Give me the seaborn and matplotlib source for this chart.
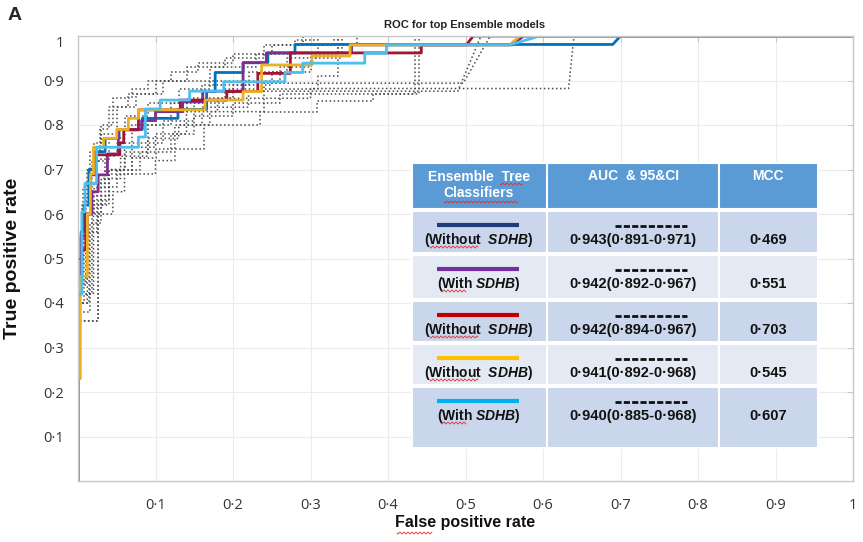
import numpy as np
import pandas as pd
import matplotlib
matplotlib.use('Agg')
import matplotlib.pyplot as plt
from matplotlib.patches import Rectangle
import seaborn as sns

# ---- data ----
tick_vals = [0.1, 0.2, 0.3, 0.4, 0.5, 0.6, 0.7, 0.8, 0.9, 1.0]
tick_labels = ['0·1', '0·2', '0·3', '0·4', '0·5', '0·6', '0·7', '0·8', '0·9', '1']

# top ensemble models (order = table rows)
blue_fpr = [0, 0, 0.004, 0.004, 0.008, 0.008, 0.014, 0.014, 0.022, 0.022, 0.035, 0.035, 0.053, 0.053,
            0.083, 0.083, 0.129, 0.129, 0.166, 0.166, 0.177, 0.177, 0.213, 0.213, 0.245, 0.245,
            0.28, 0.28, 0.69, 0.70, 1.0]
blue_tpr = [0, 0.44, 0.44, 0.56, 0.56, 0.62, 0.62, 0.7, 0.7, 0.74, 0.74, 0.77, 0.77, 0.79, 0.79,
            0.815, 0.815, 0.835, 0.835, 0.875, 0.875, 0.918, 0.918, 0.94, 0.94, 0.962, 0.962,
            0.981, 0.981, 1.0, 1.0]
purple_fpr = [0, 0, 0.004, 0.004, 0.012, 0.012, 0.018, 0.018, 0.026, 0.026, 0.038, 0.038, 0.052, 0.052,
              0.082, 0.082, 0.1, 0.1, 0.135, 0.135, 0.161, 0.161, 0.213, 0.213, 0.243, 0.243,
              0.353, 0.353, 0.56, 0.575, 1.0]
purple_tpr = [0, 0.42, 0.42, 0.55, 0.55, 0.6, 0.6, 0.65, 0.65, 0.688, 0.688, 0.735, 0.735, 0.79, 0.79,
              0.81, 0.81, 0.83, 0.83, 0.852, 0.852, 0.876, 0.876, 0.94, 0.94, 0.962, 0.962,
              0.98, 0.98, 1.0, 1.0]
red_fpr = [0, 0, 0.005, 0.005, 0.01, 0.01, 0.016, 0.016, 0.022, 0.022, 0.054, 0.054, 0.059, 0.059,
           0.078, 0.078, 0.132, 0.132, 0.192, 0.192, 0.232, 0.232, 0.274, 0.274, 0.443, 0.443,
           0.501, 0.51, 1.0]
red_tpr = [0, 0.44, 0.44, 0.52, 0.52, 0.6, 0.6, 0.688, 0.688, 0.733, 0.733, 0.76, 0.76, 0.789, 0.789,
           0.834, 0.834, 0.856, 0.856, 0.875, 0.875, 0.916, 0.916, 0.962, 0.962, 0.98, 0.98, 1.0, 1.0]
yellow_fpr = [0, 0, 0.003, 0.003, 0.012, 0.012, 0.016, 0.016, 0.02, 0.02, 0.033, 0.033, 0.05, 0.05,
              0.065, 0.065, 0.078, 0.078, 0.164, 0.164, 0.213, 0.213, 0.237, 0.237, 0.302, 0.302,
              0.351, 0.351, 0.557, 0.57, 1.0]
yellow_tpr = [0, 0.23, 0.23, 0.46, 0.46, 0.6, 0.6, 0.69, 0.69, 0.75, 0.75, 0.77, 0.77, 0.79, 0.79,
              0.815, 0.815, 0.834, 0.834, 0.856, 0.856, 0.875, 0.875, 0.935, 0.935, 0.955, 0.955,
              0.98, 0.98, 1.0, 1.0]
cyan_fpr = [0, 0, 0.005, 0.005, 0.009, 0.009, 0.024, 0.024, 0.078, 0.078, 0.087, 0.087, 0.106, 0.106,
            0.144, 0.144, 0.188, 0.188, 0.267, 0.267, 0.29, 0.29, 0.37, 0.37, 0.398, 0.398,
            0.557, 0.596, 1.0]
cyan_tpr = [0, 0.42, 0.42, 0.605, 0.605, 0.669, 0.669, 0.75, 0.75, 0.773, 0.773, 0.836, 0.836,
            0.856, 0.856, 0.876, 0.876, 0.897, 0.897, 0.918, 0.918, 0.939, 0.939, 0.961, 0.961,
            0.98, 0.98, 1.0, 1.0]

# the other (non-top) models, drawn dotted grey
gray_fpr = [
    [0, 0, 0.005, 0.005, 0.012, 0.012, 0.02, 0.02, 0.03, 0.03, 0.045, 0.045, 0.07, 0.07, 0.09, 0.09,
     0.12, 0.12, 0.155, 0.155, 0.2, 0.2, 0.25, 0.25, 0.29, 0.29, 1],
    [0, 0, 0.008, 0.008, 0.018, 0.018, 0.03, 0.03, 0.05, 0.05, 0.075, 0.075, 0.11, 0.11, 0.14, 0.14,
     0.19, 0.19, 0.24, 0.24, 0.33, 0.33, 1],
    [0, 0, 0.026, 0.026, 0.04, 0.04, 0.06, 0.06, 0.09, 0.09, 0.12, 0.12, 0.16, 0.16, 0.22, 0.22,
     0.27, 0.27, 0.31, 0.31, 0.36, 0.36, 1],
    [0, 0, 0.01, 0.01, 0.025, 0.025, 0.04, 0.04, 0.06, 0.06, 0.09, 0.09, 0.13, 0.13, 0.17, 0.17,
     0.26, 0.26, 0.3, 0.3, 0.335, 0.335, 1],
    [0, 0, 0.015, 0.015, 0.03, 0.03, 0.05, 0.05, 0.08, 0.08, 0.12, 0.12, 0.15, 0.15, 0.2, 0.2,
     0.26, 0.26, 0.435, 0.435, 1],
    [0, 0, 0.026, 0.026, 0.045, 0.045, 0.06, 0.06, 0.1, 0.1, 0.125, 0.125, 0.16, 0.16, 0.22, 0.22,
     0.49, 0.52, 1],
    [0, 0, 0.02, 0.02, 0.035, 0.035, 0.06, 0.06, 0.1, 0.1, 0.14, 0.14, 0.18, 0.18, 0.24, 0.24,
     0.497, 0.532, 1],
    [0, 0, 0.012, 0.012, 0.03, 0.03, 0.055, 0.055, 0.09, 0.09, 0.13, 0.13, 0.17, 0.17, 0.24, 0.24,
     0.3, 0.3, 0.633, 0.64, 1],
    [0, 0, 0.018, 0.018, 0.04, 0.04, 0.07, 0.07, 0.1, 0.1, 0.162, 0.162, 0.235, 0.235, 0.308, 0.308,
     0.381, 0.381, 0.44, 0.44, 1],
    [0, 0, 0.006, 0.006, 0.015, 0.015, 0.028, 0.028, 0.04, 0.04, 0.065, 0.065, 0.1, 0.1, 0.17, 0.17,
     0.23, 0.23, 0.28, 0.28, 0.31, 0.31, 1],
    [0, 0, 0.01, 0.01, 0.02, 0.02, 0.035, 0.035, 0.05, 0.05, 0.07, 0.07, 0.1, 0.1, 0.14, 0.14,
     0.2, 0.2, 0.25, 0.25, 0.3, 0.3, 0.34, 0.34, 1],
    [0, 0, 0.014, 0.014, 0.024, 0.024, 0.04, 0.04, 0.07, 0.07, 0.11, 0.11, 0.15, 0.15, 0.19, 0.19,
     0.31, 0.31, 0.335, 0.335, 1],
]
gray_tpr = [
    [0, 0.45, 0.45, 0.62, 0.62, 0.7, 0.7, 0.76, 0.76, 0.8, 0.8, 0.86, 0.86, 0.88, 0.88, 0.9,
     0.9, 0.92, 0.92, 0.94, 0.94, 0.96, 0.96, 0.98, 0.98, 1, 1],
    [0, 0.4, 0.4, 0.6, 0.6, 0.72, 0.72, 0.78, 0.78, 0.84, 0.84, 0.87, 0.87, 0.9, 0.9, 0.93,
     0.93, 0.95, 0.95, 0.98, 0.98, 1, 1],
    [0, 0.36, 0.36, 0.62, 0.62, 0.7, 0.7, 0.74, 0.74, 0.8, 0.8, 0.85, 0.85, 0.89, 0.89, 0.92,
     0.92, 0.95, 0.95, 0.98, 0.98, 1, 1],
    [0, 0.45, 0.45, 0.64, 0.64, 0.72, 0.72, 0.77, 0.77, 0.82, 0.82, 0.85, 0.85, 0.88, 0.88, 0.9,
     0.9, 0.93, 0.93, 0.96, 0.96, 1, 1],
    [0, 0.38, 0.38, 0.58, 0.58, 0.66, 0.66, 0.7, 0.7, 0.74, 0.74, 0.78, 0.78, 0.82, 0.82, 0.85,
     0.85, 0.87, 0.87, 1, 1],
    [0, 0.36, 0.36, 0.6, 0.6, 0.65, 0.65, 0.69, 0.69, 0.72, 0.72, 0.8, 0.8, 0.84, 0.84, 0.876,
     0.876, 1, 1],
    [0, 0.42, 0.42, 0.62, 0.62, 0.7, 0.7, 0.75, 0.75, 0.78, 0.78, 0.83, 0.83, 0.86, 0.86, 0.894,
     0.894, 1, 1],
    [0, 0.4, 0.4, 0.6, 0.6, 0.68, 0.68, 0.73, 0.73, 0.77, 0.77, 0.8, 0.8, 0.83, 0.83, 0.86,
     0.86, 0.882, 0.882, 1, 1],
    [0, 0.42, 0.42, 0.63, 0.63, 0.69, 0.69, 0.725, 0.725, 0.747, 0.747, 0.8, 0.8, 0.83, 0.83, 0.853,
     0.853, 0.87, 0.87, 1, 1],
    [0, 0.5, 0.5, 0.66, 0.66, 0.74, 0.74, 0.79, 0.79, 0.84, 0.84, 0.87, 0.87, 0.9, 0.9, 0.93,
     0.93, 0.96, 0.96, 0.99, 0.99, 1, 1],
    [0, 0.44, 0.44, 0.6, 0.6, 0.67, 0.67, 0.73, 0.73, 0.76, 0.76, 0.8, 0.8, 0.83, 0.83, 0.86,
     0.86, 0.89, 0.89, 0.92, 0.92, 0.95, 0.95, 1, 1],
    [0, 0.4, 0.4, 0.56, 0.56, 0.64, 0.64, 0.7, 0.7, 0.76, 0.76, 0.81, 0.81, 0.85, 0.85, 0.88,
     0.88, 0.91, 0.91, 1, 1],
]

# table contents
row_labels = ['(Without  $\\mathbfit{SDHB}$)', '(With $\\mathbfit{SDHB}$)', '(Without  $\\mathbfit{SDHB}$)',
              '(Without  $\\mathbfit{SDHB}$)', '(With $\\mathbfit{SDHB}$)']
auc_text = ['0·943(0·891-0·971)', '0·942(0·892-0·967)', '0·942(0·894-0·967)',
            '0·941(0·892-0·968)', '0·940(0·885-0·968)']
mcc_text = ['0·469', '0·551', '0·703', '0·545', '0·607']
table_line_colors = ['#1F3B7A', '#7030A0', '#C00000', '#FFC000', '#00B0F0']

curve_colors = ['#0072BD', '#7E2F8E', '#A2142F', '#EDB120', '#4DBEEE']
curves = [(blue_fpr, blue_tpr), (purple_fpr, purple_tpr), (red_fpr, red_tpr),
          (yellow_fpr, yellow_tpr), (cyan_fpr, cyan_tpr)]

# ---- style ----
sns.set_style('whitegrid')
plt.rcParams['font.family'] = ['Liberation Sans', 'DejaVu Sans']
plt.rcParams['mathtext.fontset'] = 'custom'
plt.rcParams['mathtext.rm'] = 'Liberation Sans:bold'
plt.rcParams['mathtext.bfit'] = 'Liberation Sans:italic:bold'

W, H = 863, 542
fig = plt.figure(figsize=(W / 100, H / 100), dpi=100)
ax = fig.add_axes([78 / W, 1 - 481 / H, 775 / W, 445 / H])

for fx, ty in zip(gray_fpr, gray_tpr):
    sns.lineplot(data=pd.DataFrame({'fpr': fx, 'tpr': ty}), x='fpr', y='tpr', sort=False,
                 estimator=None, color='#4a4a4a', linestyle=':', linewidth=1.1, ax=ax)

for (fx, ty), c in zip(curves, curve_colors):
    sns.lineplot(data=pd.DataFrame({'fpr': fx, 'tpr': ty}), x='fpr', y='tpr', sort=False,
                 estimator=None, color=c, linewidth=2, ax=ax)

ax.set_xlim(0, 1)
ax.set_ylim(0, 1.0)
ax.set_xticks(tick_vals)
ax.set_xticklabels(tick_labels)
ax.set_yticks(tick_vals)
ax.set_yticklabels(tick_labels)
ax.tick_params(direction='in', length=4, color='#c8c8c8', top=True, right=True,
               labelsize=10.5, labelcolor='#333333', pad=12)
ax.tick_params(axis='y', pad=10)
for lab in ax.get_xticklabels() + ax.get_yticklabels():
    lab.set_family(['Open Sans', 'DejaVu Sans'])
ax.get_yticklabels()[-1].set_va('top')
ax.grid(True, color='#ececec', linewidth=0.8)
for s in ax.spines.values():
    s.set_color('#c8c8c8')
    s.set_linewidth(1)
ax.set_xlabel('')
ax.set_ylabel('')

fig.text(465 / W, 1 - 523 / H, 'False positive rate', ha='center', va='center',
         fontsize=11.5, fontweight='bold', color='#111111')
fig.text(13 / W, 1 - 258 / H, 'True positive rate', ha='center', va='center', rotation=90,
         fontsize=14, fontweight='bold', color='#111111')
fig.text(465 / W, 1 - 25 / H, 'ROC for top Ensemble models', ha='center', va='center',
         fontsize=8, fontweight='bold', color='#222222')
fig.text(8 / W, 1 - 15 / H, 'A', ha='left', va='center', fontsize=14, fontweight='bold')

# ---- inset table, in pixel coordinates ----
tab = fig.add_axes([0, 0, 1, 1], zorder=5)
tab.set_xlim(0, W)
tab.set_ylim(H, 0)
tab.axis('off')
tab.set_facecolor('none')


def squiggle(x0, x1, y):
    # red spell-check underline
    xs = np.linspace(x0, x1, int((x1 - x0) * 2))
    tab.plot(xs, y + 1.0 * np.sin((xs - x0) * np.pi / 2), color='#e03030', linewidth=0.6)


col_edges = [412, 547, 719, 818]
row_edges = [(211, 253), (255, 299), (301, 342), (344, 385), (387, 448)]
row_fill = ['#CAD6EB', '#E4EAF4', '#CAD6EB', '#E4EAF4', '#CAD6EB']

for i in range(3):
    tab.add_patch(Rectangle((col_edges[i], 163), col_edges[i + 1] - col_edges[i], 46,
                            facecolor='#5B9BD5', edgecolor='white', linewidth=1.5))
tab.text(479, 185, 'Ensemble  Tree\nClassifiers', ha='center', va='center', color='white',
         fontsize=10, fontweight='bold', linespacing=1.2)
tab.text(633, 176, 'AUC  & 95&CI', ha='center', va='center', color='white', fontsize=10, fontweight='bold')
tab.text(768, 176, 'MCC', ha='center', va='center', color='white', fontsize=10, fontweight='bold')
squiggle(500, 522, 184)
squiggle(444, 518, 202)

for r, (top, bot) in enumerate(row_edges):
    for i in range(3):
        tab.add_patch(Rectangle((col_edges[i], top), col_edges[i + 1] - col_edges[i], bot - top,
                                facecolor=row_fill[r], edgecolor='white', linewidth=1.5))
    tab.plot([437, 519], [top + 14, top + 14], color=table_line_colors[r], linewidth=3,
             solid_capstyle='butt')
    tab.text(479, top + 29, row_labels[r], ha='center', va='center', fontsize=10,
             fontweight='bold', color='#111111')
    if 'Without' in row_labels[r]:
        squiggle(430, 478, top + 36)
    else:
        squiggle(441, 466, top + 36)
    tab.plot([615, 687], [top + 15, top + 15], color='#111111', linewidth=2,
             dashes=(2.2, 0.8), solid_capstyle='butt', dash_capstyle='butt')
    tab.text(633, top + 29, auc_text[r], ha='center', va='center', fontsize=10.5,
             fontweight='bold', color='#111111')
    tab.text(768, top + 29, mcc_text[r], ha='center', va='center', fontsize=10.5,
             fontweight='bold', color='#111111')

squiggle(397, 432, 533)

fig.savefig('out.png', dpi=100)
